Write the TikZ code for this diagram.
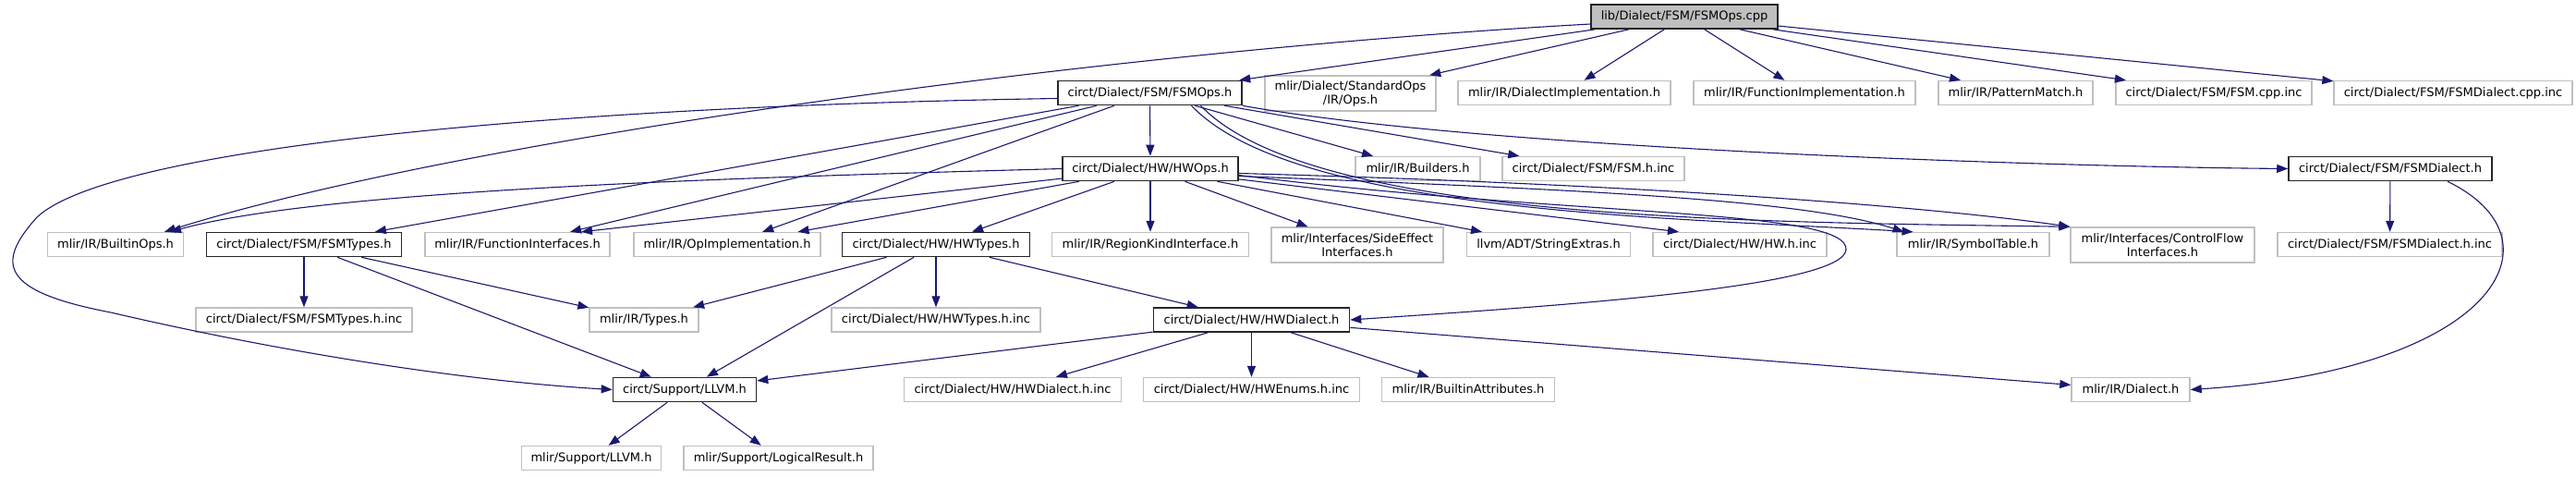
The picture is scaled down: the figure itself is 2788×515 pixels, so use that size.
\documentclass[tikz,border=0pt]{standalone}
\usepackage{fontspec}
\setmainfont{DejaVu Sans}
\usepackage{tikz}
\usetikzlibrary{arrows.meta}
\definecolor{edgeblue}{RGB}{25,25,112}
\definecolor{boxgray}{RGB}{191,191,191}

\begin{document}
\begin{tikzpicture}[
  x=1pt, y=-1pt,
  incbox/.style={rectangle, draw=boxgray, line width=1.4pt, fill=white,
                 inner sep=0pt, minimum height=26pt, align=center,
                 font=\fontsize{13}{15}\selectfont},
  docbox/.style={incbox, draw=black!85, line width=1.6pt},
  rootbox/.style={docbox, fill=boxgray},
  twoline/.style={minimum height=38pt},
  arr/.style={-{Triangle[length=12pt,width=9pt]}, line width=1.1pt, edgeblue},
]
  \useasboundingbox (0,0) rectangle (2788,515);

  % rank 0 and 1
  \node[rootbox, minimum width=202pt] (root) at (1823,18) {lib/Dialect/FSM/FSMOps.cpp};
  \node[docbox, minimum width=199pt] (fsmops) at (1244.5,100.5) {circt/Dialect/FSM/FSMOps.h};
  \node[incbox, twoline, minimum width=185pt] (stdops) at (1461.5,101) {mlir/Dialect/StandardOps\\/IR/Ops.h};
  \node[incbox, minimum width=230pt] (dialimpl) at (1693,100.5) {mlir/IR/DialectImplementation.h};
  \node[incbox, minimum width=240pt] (funcimpl) at (1953,100.5) {mlir/IR/FunctionImplementation.h};
  \node[incbox, minimum width=167pt] (patmatch) at (2181.5,100.5) {mlir/IR/PatternMatch.h};
  \node[incbox, minimum width=212pt] (fsmcppinc) at (2396,100.5) {circt/Dialect/FSM/FSM.cpp.inc};
  \node[incbox, minimum width=258pt] (fsmdialcppinc) at (2655,100.5) {circt/Dialect/FSM/FSMDialect.cpp.inc};

  % rank 2
  \node[docbox, minimum width=190pt] (hwops) at (1245,182.5) {circt/Dialect/HW/HWOps.h};
  \node[incbox, minimum width=135pt] (builders) at (1534.5,182.5) {mlir/IR/Builders.h};
  \node[incbox, minimum width=197pt] (fsmhinc) at (1724.5,182.5) {circt/Dialect/FSM/FSM.h.inc};
  \node[docbox, minimum width=220pt] (fsmdialect) at (2587,182.5) {circt/Dialect/FSM/FSMDialect.h};

  % rank 3
  \node[incbox, minimum width=147pt] (builtinops) at (125,264.5) {mlir/IR/BuiltinOps.h};
  \node[docbox, minimum width=211pt] (fsmtypes) at (329,264.5) {circt/Dialect/FSM/FSMTypes.h};
  \node[incbox, minimum width=200pt] (funcifaces) at (560,264.5) {mlir/IR/FunctionInterfaces.h};
  \node[incbox, minimum width=202pt] (opimpl) at (787,264.5) {mlir/IR/OpImplementation.h};
  \node[docbox, minimum width=203pt] (hwtypes) at (1013,264.5) {circt/Dialect/HW/HWTypes.h};
  \node[incbox, minimum width=213pt] (regionkind) at (1245,264.5) {mlir/IR/RegionKindInterface.h};
  \node[incbox, twoline, minimum width=186pt] (sideeffect) at (1469,265) {mlir/Interfaces/SideEffect\\Interfaces.h};
  \node[incbox, minimum width=177pt] (stringextras) at (1676,264.5) {llvm/ADT/StringExtras.h};
  \node[incbox, minimum width=188pt] (hwhinc) at (1883,264.5) {circt/Dialect/HW/HW.h.inc};
  \node[incbox, minimum width=165pt] (symtable) at (2135.5,264.5) {mlir/IR/SymbolTable.h};
  \node[incbox, twoline, minimum width=199pt] (cfiface) at (2340.5,265) {mlir/Interfaces/ControlFlow\\Interfaces.h};
  \node[incbox, minimum width=243pt] (fsmdialhinc) at (2586.5,264.5) {circt/Dialect/FSM/FSMDialect.h.inc};

  % rank 4
  \node[incbox, minimum width=234pt] (fsmtypeshinc) at (329,346) {circt/Dialect/FSM/FSMTypes.h.inc};
  \node[incbox, minimum width=118pt] (types) at (697,346) {mlir/IR/Types.h};
  \node[incbox, minimum width=226pt] (hwtypeshinc) at (1013,346) {circt/Dialect/HW/HWTypes.h.inc};
  \node[docbox, minimum width=212pt] (hwdialect) at (1354.5,346) {circt/Dialect/HW/HWDialect.h};

  % rank 5 and 6
  \node[docbox, minimum width=155pt] (cllvm) at (741,421.5) {circt/Support/LLVM.h};
  \node[incbox, minimum width=235pt] (hwdialhinc) at (1096,421.5) {circt/Dialect/HW/HWDialect.h.inc};
  \node[incbox, minimum width=234pt] (hwenums) at (1354.5,421.5) {circt/Dialect/HW/HWEnums.h.inc};
  \node[incbox, minimum width=187pt] (builtinattrs) at (1589,421.5) {mlir/IR/BuiltinAttributes.h};
  \node[incbox, minimum width=128pt] (dialect) at (2306,421.5) {mlir/IR/Dialect.h};
  \node[incbox, minimum width=151pt] (mlirllvm) at (640,495.5) {mlir/Support/LLVM.h};
  \node[incbox, minimum width=205pt] (logicalresult) at (842.5,495.5) {mlir/Support/LogicalResult.h};

  % includes of the .cpp
  \draw[arr] (root) -- (fsmops);
  \draw[arr] ([yshift=-8pt]root.west) .. controls (1200,55) and (500,150) .. ([xshift=53pt]builtinops.north);
  \draw[arr] (root) -- (stdops);
  \draw[arr] (root) -- (dialimpl);
  \draw[arr] (root) -- (funcimpl);
  \draw[arr] (root) -- (patmatch);
  \draw[arr] (root) -- (fsmcppinc);
  \draw[arr] (root) -- (fsmdialcppinc);

  % FSMOps.h
  \draw[arr] (fsmops) -- (hwops);
  \draw[arr] (fsmops) -- (builders);
  \draw[arr] (fsmops) -- (fsmhinc);
  \draw[arr] (fsmops.south east) .. controls (1600,160) and (2200,180) .. (fsmdialect.west);
  \draw[arr] (fsmops) -- (fsmtypes);
  \draw[arr] (fsmops) -- (funcifaces);
  \draw[arr] (fsmops) -- (opimpl);
  \draw[arr] ([xshift=45pt]fsmops.south) .. controls (1400,230) and (1800,235) .. ([xshift=-65pt]symtable.north);
  \draw[arr] ([xshift=55pt]fsmops.south) .. controls (1420,240) and (1900,240) .. (cfiface.north west);
  \draw[arr] ([yshift=-6pt]fsmops.west) .. controls (600,115) and (120,160) .. (40,235)
             .. controls (-5,285) and (0,315) .. (120,338)
             .. controls (300,380) and (500,412) .. (cllvm.west);

  % HWOps.h
  \draw[arr] (hwops.west) .. controls (800,192) and (350,205) .. ([xshift=59pt]builtinops.north);
  \draw[arr] (hwops) -- ([xshift=69pt]funcifaces.north);
  \draw[arr] (hwops) -- (opimpl);
  \draw[arr] (hwops) -- (hwtypes);
  \draw[arr] (hwops) -- (regionkind);
  \draw[arr] (hwops) -- (sideeffect);
  \draw[arr] (hwops) -- (stringextras);
  \draw[arr] (hwops) -- ([xshift=-66pt]hwhinc.north);
  \draw[arr] ([yshift=-8pt]hwops.east) .. controls (1700,205) and (1950,215) .. ([xshift=-75pt]symtable.north);
  \draw[arr] ([yshift=-5pt]hwops.east) .. controls (1800,200) and (2100,225) .. (cfiface.north west);
  \draw[arr] ([yshift=-7pt]hwops.east) .. controls (1700,235) and (2000,225) .. (1998,270)
             .. controls (1995,310) and (1700,330) .. (hwdialect.east);

  % FSMDialect.h
  \draw[arr] (fsmdialect) -- (fsmdialhinc);
  \draw[arr] ([xshift=62pt]fsmdialect.south) .. controls (2780,260) and (2700,400) .. (dialect.east);

  % types headers
  \draw[arr] (fsmtypes) -- (fsmtypeshinc);
  \draw[arr] (fsmtypes) -- (types);
  \draw[arr] (fsmtypes) -- (cllvm);
  \draw[arr] (hwtypes) -- (types);
  \draw[arr] (hwtypes) -- (cllvm);
  \draw[arr] (hwtypes) -- (hwtypeshinc);
  \draw[arr] (hwtypes) -- (hwdialect);

  % HWDialect.h
  \draw[arr] (hwdialect) -- (cllvm);
  \draw[arr] (hwdialect) -- (hwdialhinc);
  \draw[arr] (hwdialect) -- (hwenums);
  \draw[arr] (hwdialect) -- (builtinattrs);
  \draw[arr] (hwdialect) -- (dialect);

  % circt/Support/LLVM.h
  \draw[arr] (cllvm) -- (mlirllvm);
  \draw[arr] (cllvm) -- (logicalresult);
\end{tikzpicture}
\end{document}
